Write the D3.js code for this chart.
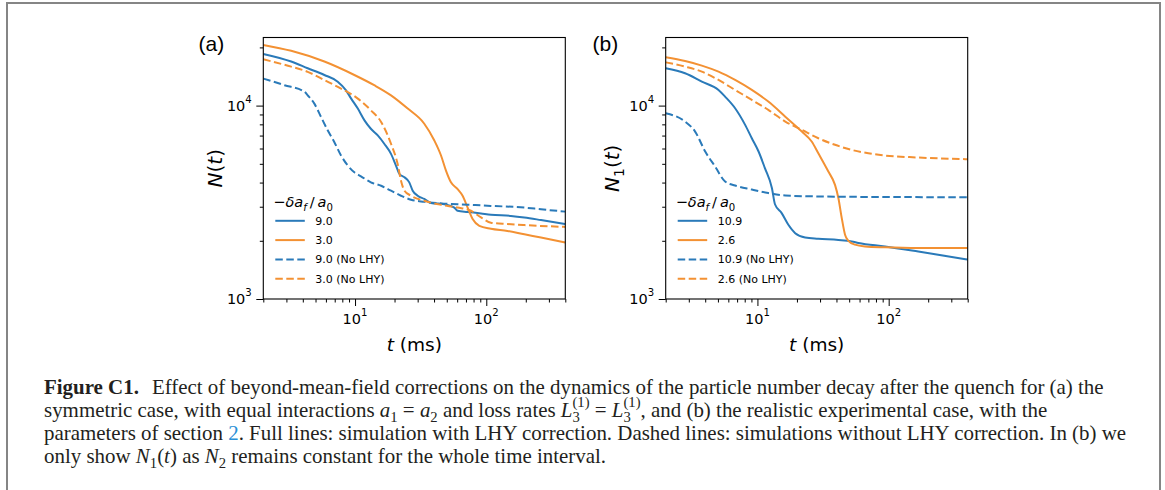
<!DOCTYPE html>
<html>
<head>
<meta charset="utf-8">
<script src="https://cdn.jsdelivr.net/npm/d3@7"></script>
<style>
    body { margin: 0; background: #fff; }
    svg { display: block; }
</style>
</head>
<body>
<svg id="fig" width="1165" height="490"></svg>
<script>
// Axis ranges and tick values (t in ms, N atoms)
const xDomain = [2, 400];
const yDomain = [1000, 22500];
const xMajor = [10, 100];
const yMajor = [1000, 10000];

// Panel (a): symmetric case, [t, N]
const aLhy90 = [[2,18500],[3.26,16900],[4.36,15600],[5.84,14400],[7.38,13300],[8.54,12000],[9.32,10900],[10.5,9650],[11.8,8390],[13.2,7590],[14.9,7010],[16.7,6350],[18.8,5630],[20.5,4900],[21.8,4430],[23.8,4260],[25.9,4010],[27.5,3630],[30,3420],[33.7,3290],[37.9,3140],[47.9,3090],[57.1,2970],[60.5,2860],[72.1,2820],[91.1,2770],[108.5,2730],[154,2690],[195,2640],[261,2560],[400,2440]];
const aLhy30 = [[2,20600],[3.26,19200],[5.84,16900],[9.88,14400],[14,12750],[18.8,11300],[25.2,9650],[33.7,8060],[40.2,6600],[45.2,5520],[49.3,4610],[53.8,4010],[60.5,3700],[66,3420],[72.1,2970],[78.7,2590],[88.5,2390],[108.5,2310],[145,2250],[195,2160],[261,2080],[400,1960]];
const aNoLhy90 = [[2,13800],[2.9,12750],[4.11,11800],[4.36,11300],[4.9,10240],[5.51,8730],[6.19,7450],[6.96,6470],[7.82,5520],[8.8,4900],[9.88,4520],[11.1,4310],[13.2,4010],[15.8,3850],[18.8,3630],[22.4,3420],[26.7,3260],[33.7,3180],[45.2,3120],[60.5,3090],[108.5,3030],[195,2970],[261,2910],[400,2830]];
const aNoLhy30 = [[2,17350],[3.26,15900],[4.36,14950],[5.84,13550],[7.82,12250],[10.5,10870],[13.2,9460],[15.8,8230],[18.8,6350],[21.1,5000],[22.4,4090],[23.8,3630],[26.7,3420],[33.7,3220],[45.2,3070],[60.5,2970],[76.4,2860],[91.1,2640],[108.5,2480],[145,2440],[195,2410],[400,2360]];

// Panel (b): experimental case, [t, N1]
const bLhy109 = [[2,15600],[2.81,14700],[3.77,13300],[5.05,12050],[5.67,11130],[6.76,9690],[8.06,7950],[9.06,6780],[10.2,5790],[11.4,4750],[12.9,3740],[13.6,3090],[15.3,2780],[17.2,2420],[19.4,2190],[23.1,2080],[29.1,2050],[41.4,2020],[52.3,1985],[58.8,1950],[93.8,1870],[168,1760],[400,1600]];
const bLhy26 = [[2,17770],[2.81,17000],[3.77,16100],[5.05,14980],[6.76,13570],[9.06,12050],[12.1,10490],[16.3,8770],[21.8,7340],[25.9,6520],[29.1,5670],[34.7,4560],[39,3890],[41.4,3320],[43.9,2620],[46.5,2150],[49.3,2000],[55.4,1910],[66,1870],[93.8,1850],[168,1835],[400,1835]];
const bNoLhy109 = [[2,9130],[2.81,8270],[3.35,7340],[4,5790],[4.76,4840],[5.67,4050],[6.76,3860],[9.06,3680],[12.1,3530],[16.3,3430],[29.1,3390],[52.3,3375],[400,3360]];
const bNoLhy26 = [[2,16740],[2.81,15900],[3.77,14980],[5.05,13570],[6.76,12050],[9.06,10700],[12.1,9500],[16.3,8270],[21.8,7490],[29.1,6780],[39,6270],[52.3,5900],[70,5670],[93.8,5520],[168,5390],[400,5280]];

const labelsA = ['9.0', '3.0', '9.0 (No LHY)', '3.0 (No LHY)'];
const labelsB = ['10.9', '2.6', '10.9 (No LHY)', '2.6 (No LHY)'];

const blue = '#2a7ab9';
const orange = '#f39133';
const sans = '"DejaVu Sans", sans-serif';
const serif = '"Liberation Serif", "Times New Roman", serif';

const svg = d3.select('#fig');

// Layout of the two plot boxes
const plotTop = 37.5, plotBottom = 299, plotW = 302;

// Append a run of styled pieces (italic, sub/superscript) to a text element
function rich(textSel, parts, size, supUp = 0.5, subDown = 0.27) {
    let shift = 0;
    parts.forEach(p => {
        const target = p.sup ? -supUp * size : p.sub ? subDown * size : 0;
        const ts = textSel.append('tspan')
            .attr('dy', target - shift)
            .style('font-size', (p.sup || p.sub ? size * 0.7 : size) + 'px')
            .style('font-style', p.it ? 'italic' : 'normal')
            .text(p.t);
        if (p.dx) ts.attr('dx', p.dx * size);
        if (p.b) ts.style('font-weight', 'bold');
        if (p.color) ts.style('fill', p.color);
        shift = target;
    });
}

// Outer figure frame
svg.append('rect')
    .attr('x', 7).attr('y', 3)
    .attr('width', 1153).attr('height', 560)
    .style('fill', 'none')
    .style('stroke', '#858585')
    .style('stroke-width', 2);

function drawPanel(p) {
    const x = d3.scaleLog().domain(xDomain).range([p.left, p.left + plotW]);
    const y = d3.scaleLog().domain(yDomain).range([plotBottom, plotTop]);
    const g = svg.append('g');

    // Clip the curves to the plot box
    g.append('clipPath').attr('id', 'clip-' + p.id)
        .append('rect')
        .attr('x', p.left).attr('y', plotTop)
        .attr('width', plotW).attr('height', plotBottom - plotTop);

    // Ticks
    const xMinor = x.ticks().filter(v => !xMajor.includes(v));
    const yMinor = y.ticks().filter(v => !yMajor.includes(v));

    const tickStyle = sel => {
        sel.select('.domain').remove();
        sel.selectAll('line').style('stroke', '#000').style('stroke-width', 1);
    };

    g.append('g').attr('transform', `translate(0,${plotBottom})`)
        .call(d3.axisBottom(x).tickValues(xMinor).tickSize(3.5).tickFormat(''))
        .call(tickStyle);
    g.append('g').attr('transform', `translate(0,${plotBottom})`)
        .call(d3.axisBottom(x).tickValues(xMajor).tickSize(7).tickFormat(''))
        .call(tickStyle);
    g.append('g').attr('transform', `translate(${p.left},0)`)
        .call(d3.axisLeft(y).tickValues(yMinor).tickSize(3.5).tickFormat(''))
        .call(tickStyle);
    g.append('g').attr('transform', `translate(${p.left},0)`)
        .call(d3.axisLeft(y).tickValues(yMajor).tickSize(7).tickFormat(''))
        .call(tickStyle);

    // Tick labels as 10^n
    xMajor.forEach(v => {
        const t = g.append('text')
            .attr('x', x(v)).attr('y', plotBottom + 24.5)
            .attr('text-anchor', 'middle')
            .style('font-family', sans).style('fill', '#000');
        rich(t, [{ t: '10' }, { t: String(Math.round(Math.log10(v))), sup: 1 }], 14.5, 0.55);
    });
    yMajor.forEach(v => {
        const t = g.append('text')
            .attr('x', p.left - 11.5).attr('y', y(v) + 5.3)
            .attr('text-anchor', 'end')
            .style('font-family', sans).style('fill', '#000');
        rich(t, [{ t: '10' }, { t: String(Math.round(Math.log10(v))), sup: 1 }], 14.5, 0.55);
    });

    // Curves
    const line = d3.line()
        .x(d => x(d[0]))
        .y(d => y(d[1]))
        .curve(d3.curveMonotoneX);

    p.series.forEach(s => {
        g.append('path')
            .datum(s.data)
            .attr('d', line)
            .attr('clip-path', `url(#clip-${p.id})`)
            .style('fill', 'none')
            .style('stroke', s.color)
            .style('stroke-width', 2)
            .style('stroke-dasharray', s.dashed ? '7.5,3.5' : null);
    });

    // Plot box
    g.append('rect')
        .attr('x', p.left).attr('y', plotTop)
        .attr('width', plotW).attr('height', plotBottom - plotTop)
        .style('fill', 'none')
        .style('stroke', '#000')
        .style('stroke-width', 1.1);

    // Legend (no frame)
    const title = g.append('text')
        .attr('x', p.left + 10).attr('y', 207)
        .style('font-family', sans).style('fill', '#000');
    rich(title, [
        { t: '\u2212' }, { t: '\u03b4', it: 1 }, { t: 'a', it: 1 }, { t: 'f', it: 1, sub: 1 },
        { t: '\u2009/\u2009' }, { t: 'a', it: 1 }, { t: '0', sub: 1 }
    ], 14.5);

    p.series.forEach((s, i) => {
        const cy = 220.8 + i * 19.3;
        g.append('line')
            .attr('x1', p.left + 12).attr('x2', p.left + 41.5)
            .attr('y1', cy).attr('y2', cy)
            .style('stroke', s.color)
            .style('stroke-width', 2)
            .style('stroke-dasharray', s.dashed ? '7.5,3.5' : null);
        g.append('text')
            .attr('x', p.left + 52).attr('y', cy + 4)
            .style('font-family', sans).style('font-size', '11px').style('fill', '#000')
            .text(s.label);
    });

    // Axis labels
    const xl = g.append('text')
        .attr('x', p.left + plotW / 2).attr('y', 351)
        .attr('text-anchor', 'middle')
        .style('font-family', sans).style('fill', '#000');
    rich(xl, [{ t: 't', it: 1 }, { t: ' (ms)' }], 18.5);

    const yl = g.append('text')
        .attr('transform', `translate(${p.ylabelX},${(plotTop + plotBottom) / 2}) rotate(-90)`)
        .attr('text-anchor', 'middle')
        .style('font-family', sans).style('fill', '#000');
    rich(yl, p.ylabel, 20);

    // Panel letter
    g.append('text')
        .attr('x', p.letterX).attr('y', 51)
        .style('font-family', '"Liberation Sans", Arial, sans-serif')
        .style('font-size', '21px').style('fill', '#000')
        .text(p.letter);
}

drawPanel({
    id: 'a', left: 263.3, letter: '(a)', letterX: 198.5, ylabelX: 222,
    ylabel: [{ t: 'N', it: 1 }, { t: '(' }, { t: 't', it: 1 }, { t: ')' }],
    series: [
        { label: labelsA[0], data: aLhy90, color: blue, dashed: false },
        { label: labelsA[1], data: aLhy30, color: orange, dashed: false },
        { label: labelsA[2], data: aNoLhy90, color: blue, dashed: true },
        { label: labelsA[3], data: aNoLhy30, color: orange, dashed: true }
    ]
});

drawPanel({
    id: 'b', left: 665.7, letter: '(b)', letterX: 592.5, ylabelX: 619,
    ylabel: [{ t: 'N', it: 1 }, { t: '1', sub: 1 }, { t: '(' }, { t: 't', it: 1 }, { t: ')' }],
    series: [
        { label: labelsB[0], data: bLhy109, color: blue, dashed: false },
        { label: labelsB[1], data: bLhy26, color: orange, dashed: false },
        { label: labelsB[2], data: bNoLhy109, color: blue, dashed: true },
        { label: labelsB[3], data: bNoLhy26, color: orange, dashed: true }
    ]
});

// Caption
const linkBlue = '#2a8fd6';
const captionLines = [
    [{ t: 'Figure C1.', b: 1 },
     { t: 'Effect of beyond-mean-field corrections on the dynamics of the particle number decay after the quench for (a) the', dx: 0.62 }],
    [{ t: 'symmetric case, with equal interactions ' }, { t: 'a', it: 1 }, { t: '1', sub: 1 }, { t: ' = ' },
     { t: 'a', it: 1 }, { t: '2', sub: 1 }, { t: ' and loss rates ' },
     { t: 'L', it: 1 }, { t: '3', sub: 1 }, { t: '(1)', sup: 1, dx: -0.35 }, { t: ' = ' },
     { t: 'L', it: 1 }, { t: '3', sub: 1 }, { t: '(1)', sup: 1, dx: -0.35 },
     { t: ', and (b) the realistic experimental case, with the' }],
    [{ t: 'parameters of section ' }, { t: '2', color: linkBlue },
     { t: '. Full lines: simulation with LHY correction. Dashed lines: simulations without LHY correction. In (b) we' }],
    [{ t: 'only show ' }, { t: 'N', it: 1 }, { t: '1', sub: 1 }, { t: '(' }, { t: 't', it: 1 }, { t: ')' },
     { t: ' as ' }, { t: 'N', it: 1 }, { t: '2', sub: 1 },
     { t: ' remains constant for the whole time interval.' }]
];
const captionBase = [394, 417, 440, 463];

// Fit the font size so the third line spans the measured width
const probe = svg.append('text')
    .style('font-family', serif).style('font-size', '18px')
    .text(captionLines[2].map(p => p.t).join(''));
let capSize = 18 * 1083 / probe.node().getComputedTextLength();
capSize = Math.max(15, Math.min(21, capSize));
probe.remove();

captionLines.forEach((parts, i) => {
    const t = svg.append('text')
        .attr('x', 44).attr('y', captionBase[i])
        .style('font-family', serif)
        .style('fill', '#231f20');
    rich(t, parts, capSize, 0.5, 0.25);
});
</script>
</body>
</html>
